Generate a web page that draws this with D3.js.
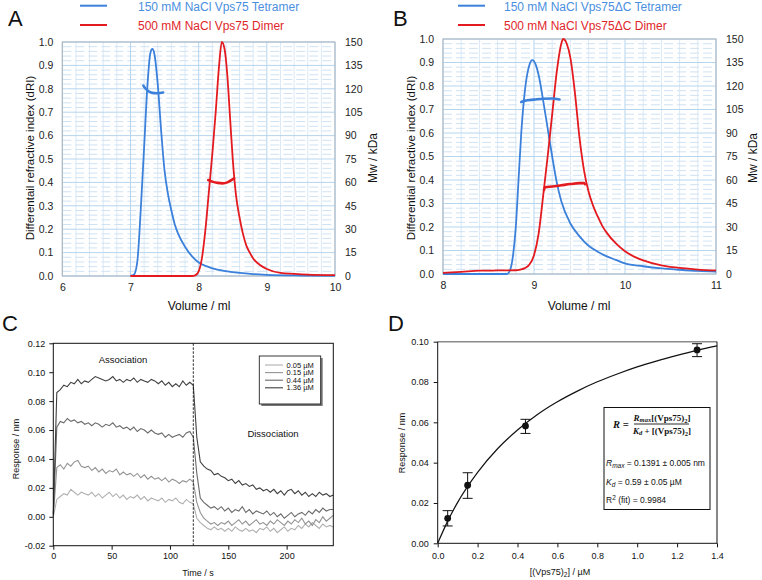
<!DOCTYPE html>
<html>
<head>
<meta charset="utf-8">
<script src="https://cdn.jsdelivr.net/npm/d3@7"></script>
<style>
  body { margin: 0; background: #fff; }
  svg { display: block; font-family: "Liberation Sans", Arial, sans-serif; }
</style>
</head>
<body>
<svg id="fig" width="762" height="580"></svg>
<script>
// ---------- data ----------

// panels A + B: SEC-MALS, [volume (ml), dRI] and [volume (ml), Mw (kDa)]
const driTicks = [0, 0.1, 0.2, 0.3, 0.4, 0.5, 0.6, 0.7, 0.8, 0.9, 1.0];
const mwTicks = [0, 15, 30, 45, 60, 75, 90, 105, 120, 135, 150];
const volTicksA = [6, 7, 8, 9, 10];
const volTicksB = [8, 9, 10, 11];

const legendA = ["150 mM NaCl Vps75 Tetramer", "500 mM NaCl Vps75 Dimer"];
const legendB = ["150 mM NaCl Vps75\u0394C Tetramer", "500 mM NaCl Vps75\u0394C Dimer"];

const aTetramerRI = [[7.0,0],[7.05,0.005],[7.1,0.06],[7.15,0.28],[7.2,0.55],[7.25,0.82],[7.29,0.95],[7.32,0.97],
  [7.35,0.95],[7.4,0.82],[7.45,0.62],[7.5,0.45],[7.55,0.35],[7.6,0.28],[7.65,0.22],[7.7,0.18],[7.8,0.125],
  [7.9,0.085],[8.0,0.058],[8.1,0.043],[8.2,0.033],[8.4,0.021],[8.6,0.013],[8.8,0.008],[9.0,0.005],[9.5,0.002],[10,0.001]];
const aDimerRI = [[7.0,0],[7.9,0],[7.95,0.003],[8.0,0.02],[8.05,0.08],[8.1,0.2],[8.15,0.36],[8.2,0.52],[8.25,0.7],
  [8.3,0.9],[8.34,1.0],[8.38,0.97],[8.42,0.86],[8.46,0.68],[8.5,0.5],[8.55,0.34],[8.6,0.25],[8.65,0.18],[8.7,0.13],
  [8.75,0.1],[8.8,0.075],[8.9,0.047],[9.0,0.03],[9.2,0.013],[9.4,0.009],[9.6,0.006],[10,0.004]];
const aTetramerMw = [[7.19,122],[7.22,120.2],[7.26,118.6],[7.3,117.6],[7.35,117.2],[7.4,117.1],[7.48,117.6]];
const aDimerMw = [[8.14,61.5],[8.2,60.5],[8.28,59.7],[8.35,59.4],[8.42,60],[8.48,61.5],[8.52,62.5]];

const bTetramerRI = [[8.0,0],[8.7,0],[8.73,0.01],[8.77,0.08],[8.8,0.2],[8.83,0.4],[8.86,0.6],[8.9,0.78],[8.95,0.89],
  [8.98,0.91],[9.02,0.89],[9.06,0.83],[9.1,0.74],[9.15,0.62],[9.2,0.5],[9.25,0.39],[9.3,0.31],[9.4,0.215],[9.5,0.16],
  [9.6,0.12],[9.7,0.095],[9.8,0.075],[9.9,0.06],[10.0,0.045],[10.2,0.033],[10.4,0.024],[10.6,0.018],[10.8,0.013],[11.0,0.01]];
const bDimerRI = [[8.0,0.005],[8.2,0.009],[8.4,0.014],[8.6,0.015],[8.8,0.016],[8.85,0.019],[8.9,0.025],[8.95,0.04],
  [9.0,0.08],[9.05,0.17],[9.1,0.33],[9.15,0.5],[9.2,0.68],[9.25,0.86],[9.3,0.98],[9.32,1.0],[9.36,0.98],[9.4,0.92],
  [9.45,0.77],[9.5,0.58],[9.55,0.44],[9.6,0.35],[9.65,0.29],[9.7,0.245],[9.75,0.205],[9.8,0.175],[9.9,0.13],
  [10.0,0.097],[10.1,0.074],[10.2,0.058],[10.4,0.037],[10.6,0.026],[10.8,0.019],[11.0,0.015]];
const bTetramerMw = [[8.86,109.8],[8.9,110.6],[9.0,111.3],[9.1,111.9],[9.2,112],[9.28,111.4]];
const bDimerMw = [[9.11,53.6],[9.12,55.3],[9.2,55.8],[9.3,56.6],[9.4,57.4],[9.5,58],[9.55,58.1],[9.56,57.3]];

// panel C: BLI sensorgrams, response (nm) every 3 s from 0 to 240 s
const timeC = d3.range(0, 241, 3);
const concLabelsC = ["0.05 \u00b5M", "0.15 \u00b5M", "0.44 \u00b5M", "1.36 \u00b5M"];
const s005 = [
  0.000, 0.012, 0.014, 0.016, 0.015, 0.019, 0.017, 0.015, 0.017, 0.016,
  0.015, 0.017, 0.014, 0.016, 0.013, 0.015, 0.017, 0.014, 0.016, 0.013,
  0.015, 0.012, 0.014, 0.013, 0.015, 0.012, 0.014, 0.011, 0.013, 0.012,
  0.011, 0.013, 0.010, 0.012, 0.011, 0.013, 0.010, 0.009, 0.012, 0.010,
  0.009, -0.001, -0.004, -0.006, -0.008, -0.009, -0.007, -0.009, -0.008, -0.010,
  -0.008, -0.010, -0.007, -0.009, -0.010, -0.008, -0.010, -0.009, -0.011, -0.008,
  -0.009, -0.007, -0.010, -0.008, -0.011, -0.009, -0.007, -0.010, -0.008, -0.009,
  -0.006, -0.008, -0.005, -0.007, -0.004, -0.006, -0.008, -0.005, -0.007, -0.006,
  -0.007];
const s015 = [
  0.000, 0.034, 0.036, 0.033, 0.037, 0.035, 0.038, 0.039, 0.035, 0.034,
  0.035, 0.032, 0.034, 0.031, 0.033, 0.030, 0.032, 0.031, 0.033, 0.029,
  0.031, 0.029, 0.030, 0.028, 0.030, 0.027, 0.029, 0.026, 0.028, 0.026,
  0.027, 0.025, 0.027, 0.024, 0.026, 0.025, 0.023, 0.025, 0.024, 0.026,
  0.024, 0.010, 0.003, -0.001, -0.003, -0.005, -0.004, -0.006, -0.004, -0.005,
  -0.003, -0.006, -0.004, -0.002, -0.005, -0.003, -0.006, -0.004, -0.002, -0.005,
  -0.004, -0.006, -0.003, -0.005, -0.002, -0.004, -0.006, -0.003, -0.005, -0.002,
  -0.004, -0.001, -0.005, -0.003, -0.006, -0.002, -0.004, 0.000, -0.003, -0.001,
  0.001];
const s044 = [
  0.001, 0.062, 0.066, 0.065, 0.068, 0.066, 0.067, 0.065, 0.066, 0.064,
  0.065, 0.063, 0.065, 0.064, 0.062, 0.064, 0.063, 0.065, 0.062, 0.063,
  0.061, 0.062, 0.060, 0.062, 0.059, 0.061, 0.060, 0.058, 0.060, 0.058,
  0.057, 0.058, 0.055, 0.057, 0.055, 0.056, 0.057, 0.055, 0.058, 0.059,
  0.055, 0.030, 0.013, 0.010, 0.008, 0.006, 0.007, 0.005, 0.007, 0.004,
  0.006, 0.003, 0.005, 0.004, 0.007, 0.003, 0.005, 0.002, 0.004, 0.003,
  0.002, 0.004, 0.001, 0.003, 0.000, 0.002, -0.001, 0.001, 0.003, 0.000,
  0.002, 0.003, 0.001, 0.004, 0.002, 0.005, 0.003, 0.006, 0.004, 0.005,
  0.005];
const s136 = [
  0.002, 0.086, 0.088, 0.091, 0.090, 0.093, 0.092, 0.095, 0.092, 0.094,
  0.093, 0.095, 0.097, 0.096, 0.095, 0.094, 0.095, 0.097, 0.094, 0.095,
  0.093, 0.095, 0.094, 0.096, 0.093, 0.095, 0.094, 0.093, 0.095, 0.094,
  0.092, 0.094, 0.091, 0.093, 0.090, 0.092, 0.090, 0.094, 0.091, 0.093,
  0.091, 0.055, 0.038, 0.035, 0.033, 0.032, 0.029, 0.030, 0.028, 0.027,
  0.025, 0.026, 0.023, 0.025, 0.022, 0.023, 0.021, 0.022, 0.019, 0.020,
  0.018, 0.019, 0.017, 0.019, 0.016, 0.018, 0.015, 0.018, 0.019, 0.016,
  0.018, 0.015, 0.017, 0.014, 0.016, 0.014, 0.017, 0.015, 0.016, 0.014,
  0.015];
const tracesC = [s005, s015, s044, s136];
const timeTicksC = [0, 50, 100, 150, 200];
const respTicksC = [-0.02, 0, 0.02, 0.04, 0.06, 0.08, 0.10, 0.12];

// panel D: binding isotherm
const concD = [0.05, 0.15, 0.44, 1.30];
const respD = [0.0124, 0.0288, 0.0582, 0.0959];
const errLoD = [0.0086, 0.0223, 0.0545, 0.0926];
const errHiD = [0.0162, 0.0350, 0.0615, 0.0990];
const fitXD = [0, 0.05, 0.1, 0.2, 0.3, 0.4, 0.5, 0.6, 0.7, 0.8, 0.9, 1.0, 1.1, 1.2, 1.3, 1.4];
const fitYD = [0, 0.0110, 0.0203, 0.0352, 0.0469, 0.0562, 0.0639, 0.0702, 0.0755, 0.0801, 0.0840, 0.0875, 0.0905, 0.0932, 0.0957, 0.0979];
const concTicksD = [0, 0.2, 0.4, 0.6, 0.8, 1.0, 1.2, 1.4];
const respTicksD = [0, 0.02, 0.04, 0.06, 0.08, 0.10];

// ---------- colours ----------
const BLUE = "#3b80da";
const RED = "#e31a1f";
const greysC = ["#b0b0b0", "#949494", "#6a6a6a", "#404040"];

const svg = d3.select("#fig");
svg.append("rect").attr("width", 762).attr("height", 580).attr("fill", "#fff");

const minus = s => s.replace("\u2212", "-");

// panel letters
[["A", 8, 26], ["B", 393, 26], ["C", 2, 331], ["D", 388, 331]].forEach(p => {
  svg.append("text").attr("x", p[1]).attr("y", p[2]).text(p[0])
    .style("font-size", "22px").attr("fill", "#111");
});

// function to draw one SEC-MALS panel
function drawSec(cfg) {
  const g = svg.append("g");
  const x = d3.scaleLinear().domain(cfg.xDomain).range([cfg.left, cfg.right]);
  const y = d3.scaleLinear().domain([0, 1]).range([cfg.bottom, cfg.top]);
  const yMw = d3.scaleLinear().domain([0, 150]).range([cfg.bottom, cfg.top]);

  // minor grid //
  const minorX = d3.range(cfg.xDomain[0], cfg.xDomain[1], 0.2).filter(v => Math.abs(v - Math.round(v)) > 0.01);
  g.selectAll(".vminor").data(minorX).join("line")
    .attr("x1", d => x(d)).attr("x2", d => x(d))
    .attr("y1", cfg.top).attr("y2", cfg.bottom)
    .attr("stroke", "#dbe9f6").attr("stroke-width", 1);
  const minorY = d3.range(0, 1.0001, 0.02).filter(v => Math.abs(v * 10 - Math.round(v * 10)) > 0.01);
  g.selectAll(".hminor").data(minorY).join("line")
    .attr("x1", cfg.left).attr("x2", cfg.right)
    .attr("y1", d => y(d)).attr("y2", d => y(d))
    .attr("stroke", "#cfe2f3").attr("stroke-width", 1)
    .attr("stroke-dasharray", "9,4");

  // major grid //
  g.selectAll(".vmajor").data(cfg.xTicks).join("line")
    .attr("x1", d => x(d)).attr("x2", d => x(d))
    .attr("y1", cfg.top).attr("y2", cfg.bottom)
    .attr("stroke", "#b5d5ee").attr("stroke-width", 1);
  g.selectAll(".hmajor").data(driTicks).join("line")
    .attr("x1", cfg.left).attr("x2", cfg.right)
    .attr("y1", d => y(d)).attr("y2", d => y(d))
    .attr("stroke", "#b5d5ee").attr("stroke-width", 1);

  g.append("rect")
    .attr("x", cfg.left).attr("y", cfg.top)
    .attr("width", cfg.right - cfg.left).attr("height", cfg.bottom - cfg.top)
    .attr("fill", "none").attr("stroke", "#a9b4bd").attr("stroke-width", 1);

  // axes //
  const axL = g.append("g").attr("transform", `translate(${cfg.left},0)`)
    .call(d3.axisLeft(y).tickValues(driTicks).tickSize(0).tickPadding(9).tickFormat(d3.format(".1f")));
  const axR = g.append("g").attr("transform", `translate(${cfg.right},0)`)
    .call(d3.axisRight(yMw).tickValues(mwTicks).tickSize(0).tickPadding(10));
  const axB = g.append("g").attr("transform", `translate(0,${cfg.bottom})`)
    .call(d3.axisBottom(x).tickValues(cfg.xTicks).tickSize(0).tickPadding(8).tickFormat(d3.format("d")));
  [axL, axR, axB].forEach(a => {
    a.select(".domain").remove();
    a.selectAll("text").style("font-size", "10.5px").style("font-family", "Liberation Sans, Arial, sans-serif").attr("fill", "#222");
  });

  // axis titles
  g.append("text")
    .attr("transform", `translate(${cfg.yTitleX},158) rotate(-90)`)
    .attr("dy", "0.35em").style("text-anchor", "middle").style("font-size", "11.5px")
    .attr("fill", "#111").text(cfg.yTitle);
  g.append("text")
    .attr("transform", `translate(${cfg.mwTitleX},158) rotate(-90)`)
    .attr("dy", "0.35em").style("text-anchor", "middle").style("font-size", "12px")
    .attr("fill", "#111").text("Mw / kDa");
  g.append("text")
    .attr("x", cfg.volTitleX).attr("y", 309.5)
    .style("text-anchor", "middle").style("font-size", "12px")
    .attr("fill", "#111").text("Volume / ml");

  // curves //
  const clipId = "clip" + cfg.id;
  svg.append("clipPath").attr("id", clipId).append("rect")
    .attr("x", cfg.left).attr("y", cfg.top - 2)
    .attr("width", cfg.right - cfg.left).attr("height", cfg.bottom - cfg.top + 3);
  const lineRI = d3.line().x(d => x(d[0])).y(d => y(d[1])).curve(d3.curveMonotoneX);
  const lineMw = d3.line().x(d => x(d[0])).y(d => yMw(d[1])).curve(d3.curveMonotoneX);
  const plot = g.append("g").attr("clip-path", `url(#${clipId})`);

  plot.append("path").datum(cfg.tetRI).attr("d", lineRI)
    .attr("fill", "none").attr("stroke", BLUE).attr("stroke-width", 1.8);
  plot.append("path").datum(cfg.dimRI).attr("d", lineRI)
    .attr("fill", "none").attr("stroke", RED).attr("stroke-width", 1.8);
  plot.append("path").datum(cfg.tetMw).attr("d", lineMw)
    .attr("fill", "none").attr("stroke", BLUE).attr("stroke-width", 2.6).attr("stroke-linecap", "round");
  plot.append("path").datum(cfg.dimMw).attr("d", lineMw)
    .attr("fill", "none").attr("stroke", RED).attr("stroke-width", 2.6).attr("stroke-linecap", "round");

  // legend //
  const cols = [BLUE, RED];
  const textCols = ["#4a8fe0", "#e0262b"];
  cfg.legend.forEach((lab, i) => {
    const ly = [5.7, 25][i];
    g.append("line")
      .attr("x1", cfg.legX).attr("x2", cfg.legX + 27)
      .attr("y1", ly).attr("y2", ly)
      .attr("stroke", cols[i]).attr("stroke-width", 2);
    g.append("text")
      .attr("x", cfg.legTextX).attr("y", [11, 30][i])
      .style("font-size", "12px").attr("fill", textCols[i]).text(lab);
  });
}

drawSec({
  id: "A", xDomain: [6, 10], xTicks: volTicksA,
  left: 62.3, right: 335, top: 42, bottom: 276,
  yTitle: "Differentail refractive index (dRI)", yTitleX: 30, mwTitleX: 373, volTitleX: 199,
  tetRI: aTetramerRI, dimRI: aDimerRI, tetMw: aTetramerMw, dimMw: aDimerMw,
  legend: legendA, legX: 80, legTextX: 138
});

drawSec({
  id: "B", xDomain: [8, 11], xTicks: volTicksB,
  left: 443, right: 716, top: 39, bottom: 274,
  yTitle: "Differential refractive index (dRI)", yTitleX: 411, mwTitleX: 753, volTitleX: 579,
  tetRI: bTetramerRI, dimRI: bDimerRI, tetMw: bTetramerMw, dimMw: bDimerMw,
  legend: legendB, legX: 458, legTextX: 504
});

// ---------- panel C ----------
const cL = 53.3, cR = 333.3, cT = 343.3, cB = 545.7;
const xC = d3.scaleLinear().domain([0, 240]).range([cL, cR]);
const yC = d3.scaleLinear().domain([-0.02, 0.12]).range([cB, cT]);
const gC = svg.append("g");

// x-axis //
const axCx = gC.append("g").attr("transform", `translate(0,${cB})`)
  .call(d3.axisBottom(xC).tickValues(timeTicksC).tickSize(4).tickPadding(3).tickFormat(d3.format("d")));
// y-axis //
const axCy = gC.append("g").attr("transform", `translate(${cL},0)`)
  .call(d3.axisLeft(yC).tickValues(respTicksC).tickSize(4).tickPadding(4).tickFormat(d => minus(d3.format(".2f")(d))));
[axCx, axCy].forEach(a => {
  a.select(".domain").remove();
  a.selectAll("text").style("font-size", "9px").style("font-family", "Liberation Sans, Arial, sans-serif").attr("fill", "#111");
  a.selectAll("line").attr("stroke", "#111");
});

const lineC = d3.line().x((d, i) => xC(timeC[i])).y(d => yC(d));
tracesC.forEach((tr, i) => {
  gC.append("path").datum(tr).attr("d", lineC)
    .attr("fill", "none").attr("stroke", greysC[i]).attr("stroke-width", 1.1);
});

// association / dissociation divider
gC.append("line")
  .attr("x1", xC(120)).attr("x2", xC(120)).attr("y1", cT).attr("y2", cB)
  .attr("stroke", "#111").attr("stroke-width", 0.9).attr("stroke-dasharray", "2.5,1.5");

gC.append("rect").attr("x", cL).attr("y", cT).attr("width", cR - cL).attr("height", cB - cT)
  .attr("fill", "none").attr("stroke", "#111").attr("stroke-width", 1);

gC.append("text").attr("x", 123).attr("y", 362.5).style("text-anchor", "middle")
  .style("font-size", "9.5px").attr("fill", "#111").text("Association");
gC.append("text").attr("x", 273).attr("y", 436.5).style("text-anchor", "middle")
  .style("font-size", "9.5px").attr("fill", "#111").text("Dissociation");

// legend box with shadow
gC.append("rect").attr("x", 261.3).attr("y", 358).attr("width", 61.4).attr("height", 48)
  .attr("fill", "#777");
gC.append("rect").attr("x", 259.3).attr("y", 356).attr("width", 61.4).attr("height", 48)
  .attr("fill", "#fff").attr("stroke", "#222").attr("stroke-width", 0.9);
concLabelsC.forEach((lab, i) => {
  const ly = 365 + i * 7.6;
  gC.append("line").attr("x1", 265).attr("x2", 283).attr("y1", ly).attr("y2", ly)
    .attr("stroke", greysC[i]).attr("stroke-width", 1.1);
  gC.append("text").attr("x", 286.5).attr("y", ly).attr("dy", "0.35em")
    .style("font-size", "7.5px").attr("fill", "#111").text(lab);
});

gC.append("text")
  .attr("transform", "translate(16,449) rotate(-90)")
  .attr("dy", "0.35em").style("text-anchor", "middle").style("font-size", "9px")
  .attr("fill", "#111").text("Response / nm");
gC.append("text").attr("x", 198).attr("y", 576).style("text-anchor", "middle")
  .style("font-size", "9px").attr("fill", "#111").text("Time / s");

// ---------- panel D ----------
const dL = 437.7, dR = 717, dT = 341.7, dB = 543.3;
const xD = d3.scaleLinear().domain([0, 1.4]).range([dL, dR]);
const yD = d3.scaleLinear().domain([0, 0.10]).range([dB, dT]);
const gD = svg.append("g");

const axDx = gD.append("g").attr("transform", `translate(0,${dB})`)
  .call(d3.axisBottom(xD).tickValues(concTicksD).tickSize(4).tickPadding(5).tickFormat(d3.format(".1f")));
const axDy = gD.append("g").attr("transform", `translate(${dL},0)`)
  .call(d3.axisLeft(yD).tickValues(respTicksD).tickSize(4).tickPadding(5).tickFormat(d3.format(".2f")));
[axDx, axDy].forEach(a => {
  a.select(".domain").remove();
  a.selectAll("text").style("font-size", "9px").style("font-family", "Liberation Sans, Arial, sans-serif").attr("fill", "#111");
  a.selectAll("line").attr("stroke", "#111");
});

// frame: top edge is grey
gD.append("line").attr("x1", dL).attr("x2", dR).attr("y1", dT).attr("y2", dT)
  .attr("stroke", "#8a8a8a").attr("stroke-width", 1.6);
gD.append("path")
  .attr("d", `M${dL},${dT}V${dB}H${dR}V${dT}`)
  .attr("fill", "none").attr("stroke", "#111").attr("stroke-width", 1);

// fitted hyperbola
gD.append("path").datum(fitXD.map((v, i) => [v, fitYD[i]]))
  .attr("d", d3.line().x(d => xD(d[0])).y(d => yD(d[1])).curve(d3.curveMonotoneX))
  .attr("fill", "none").attr("stroke", "#111").attr("stroke-width", 1.2);

// error bars + points
concD.forEach((c, i) => {
  gD.append("line").attr("x1", xD(c)).attr("x2", xD(c)).attr("y1", yD(errLoD[i])).attr("y2", yD(errHiD[i]))
    .attr("stroke", "#111").attr("stroke-width", 1);
  [errLoD[i], errHiD[i]].forEach(v => {
    gD.append("line").attr("x1", xD(c) - 5).attr("x2", xD(c) + 5).attr("y1", yD(v)).attr("y2", yD(v))
      .attr("stroke", "#111").attr("stroke-width", 1);
  });
});
gD.selectAll("circle").data(concD).join("circle")
  .attr("cx", d => xD(d)).attr("cy", (d, i) => yD(respD[i])).attr("r", 3.4)
  .attr("fill", "#111");

// equation box
gD.append("rect").attr("x", 604).attr("y", 407.5).attr("width", 106).attr("height", 102)
  .attr("fill", "#fff").attr("stroke", "#111").attr("stroke-width", 1);

const serif = "Liberation Serif, 'Times New Roman', serif";
gD.append("text").attr("x", 613).attr("y", 427.5)
  .style("font-family", serif).style("font-size", "10.5px").style("font-weight", "bold").style("font-style", "italic")
  .attr("fill", "#111").text("R =");

const num = gD.append("text").attr("x", 662).attr("y", 420.5).style("text-anchor", "middle")
  .style("font-family", serif).style("font-size", "9px").style("font-weight", "bold").attr("fill", "#111");
num.append("tspan").style("font-style", "italic").text("R");
num.append("tspan").style("font-style", "italic").style("font-size", "6.5px").attr("dy", 1.5).text("max");
num.append("tspan").attr("dy", -1.5).text("[(Vps75)");
num.append("tspan").style("font-size", "6.5px").attr("dy", 2).text("2");
num.append("tspan").attr("dy", -2).text("]");

gD.append("line").attr("x1", 634).attr("x2", 689).attr("y1", 424).attr("y2", 424)
  .attr("stroke", "#111").attr("stroke-width", 0.9);

const den = gD.append("text").attr("x", 662).attr("y", 433.5).style("text-anchor", "middle")
  .style("font-family", serif).style("font-size", "9px").style("font-weight", "bold").attr("fill", "#111");
den.append("tspan").style("font-style", "italic").text("K");
den.append("tspan").style("font-style", "italic").style("font-size", "6.5px").attr("dy", 1.5).text("d");
den.append("tspan").attr("dy", -1.5).text(" + [(Vps75)");
den.append("tspan").style("font-size", "6.5px").attr("dy", 2).text("2");
den.append("tspan").attr("dy", -2).text("]");

const p1 = gD.append("text").attr("x", 606).attr("y", 466).style("font-size", "8.5px").attr("fill", "#111");
p1.append("tspan").style("font-style", "italic").text("R");
p1.append("tspan").style("font-style", "italic").style("font-size", "6.5px").attr("dy", 1.5).text("max");
p1.append("tspan").attr("dy", -1.5).text(" = 0.1391 \u00b1 0.005 nm");

const p2 = gD.append("text").attr("x", 606).attr("y", 485).style("font-size", "8.5px").attr("fill", "#111");
p2.append("tspan").style("font-style", "italic").text("K");
p2.append("tspan").style("font-style", "italic").style("font-size", "6.5px").attr("dy", 1.5).text("d");
p2.append("tspan").attr("dy", -1.5).text(" = 0.59 \u00b1 0.05 \u00b5M");

const p3 = gD.append("text").attr("x", 606).attr("y", 503).style("font-size", "8.5px").attr("fill", "#111");
p3.append("tspan").text("R");
p3.append("tspan").style("font-size", "6.5px").attr("dy", -3).text("2");
p3.append("tspan").attr("dy", 3).text(" (fit) = 0.9984");

// axis titles
gD.append("text")
  .attr("transform", "translate(402,443) rotate(-90)")
  .attr("dy", "0.35em").style("text-anchor", "middle").style("font-size", "9px")
  .attr("fill", "#111").text("Response / nm");
const xtD = gD.append("text").attr("x", 560).attr("y", 575).style("text-anchor", "middle")
  .style("font-size", "9px").attr("fill", "#111");
xtD.append("tspan").text("[(Vps75)");
xtD.append("tspan").style("font-size", "6.5px").attr("dy", 1.5).text("2");
xtD.append("tspan").attr("dy", -1.5).text("] / \u00b5M");
</script>
</body>
</html>
